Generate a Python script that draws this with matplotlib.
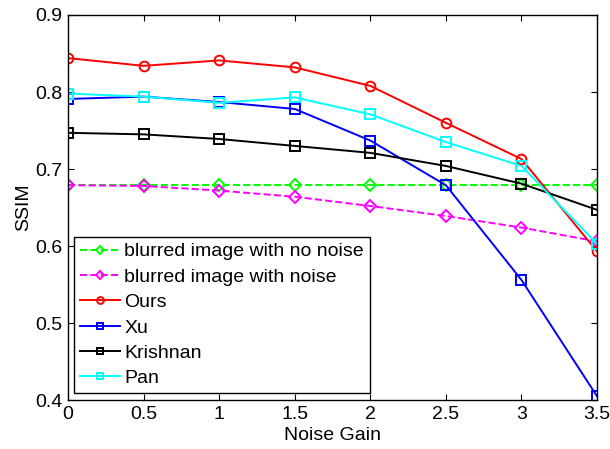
import matplotlib
matplotlib.use("Agg")
import matplotlib.pyplot as plt

noise_gain = [0, 0.5, 1, 1.5, 2, 2.5, 3, 3.5]
no_noise = [0.679, 0.679, 0.679, 0.679, 0.679, 0.679, 0.679, 0.679]
with_noise = [0.679, 0.678, 0.672, 0.664, 0.652, 0.639, 0.624, 0.606]
ours = [0.844, 0.834, 0.841, 0.832, 0.808, 0.760, 0.713, 0.593]
xu = [0.791, 0.794, 0.787, 0.778, 0.737, 0.679, 0.556, 0.405]
krishnan = [0.747, 0.745, 0.739, 0.730, 0.721, 0.704, 0.681, 0.647]
pan = [0.798, 0.794, 0.786, 0.793, 0.771, 0.735, 0.704, 0.603]

labels = ["blurred image with no noise", "blurred image with noise", "Ours", "Xu", "Krishnan", "Pan"]
xticks = [0, 0.5, 1, 1.5, 2, 2.5, 3, 3.5]
yticks = [0.4, 0.5, 0.6, 0.7, 0.8, 0.9]

plt.rcParams['font.family'] = ['Liberation Sans', 'DejaVu Sans']
fig = plt.figure(figsize=(6.1, 4.49), dpi=100)
ax = fig.add_axes([0.1115, 0.109, 0.8672, 0.8576])

lw = 1.4
ax.plot(noise_gain, no_noise, '--', color='#00ff00', marker='D', mfc='none', ms=6, mew=1.4, lw=lw, label=labels[0])
ax.plot(noise_gain, with_noise, '--', color='#ff00ff', marker='D', mfc='none', ms=6, mew=1.4, lw=lw, label=labels[1])
ax.plot(noise_gain, ours, '-', color='#ff0000', marker='o', mfc='none', ms=7, mew=1.4, lw=lw, label=labels[2])
ax.plot(noise_gain, xu, '-', color='#0000ff', marker='s', mfc='none', ms=7, mew=1.4, lw=lw, label=labels[3])
ax.plot(noise_gain, krishnan, '-', color='#000000', marker='s', mfc='none', ms=7, mew=1.4, lw=lw, label=labels[4])
ax.plot(noise_gain, pan, '-', color='#00ffff', marker='s', mfc='none', ms=7, mew=1.4, lw=lw, label=labels[5])

ax.set_xlim(0, 3.5)
ax.set_ylim(0.4, 0.9)
ax.set_xticks(xticks)
ax.set_xticklabels(['0', '0.5', '1', '1.5', '2', '2.5', '3', '3.5'])
ax.set_yticks(yticks)
ax.set_yticklabels(['0.4', '0.5', '0.6', '0.7', '0.8', '0.9'])
ax.tick_params(direction='in', top=True, right=True, labelsize=14, length=4, width=0.8, pad=4)
for s in ax.spines.values():
    s.set_linewidth(1.0)
ax.set_xlabel('Noise Gain', fontsize=14, labelpad=3)
ax.set_ylabel('SSIM', fontsize=14, labelpad=2)

leg = ax.legend(loc='lower left', bbox_to_anchor=(0.011, 0.018), borderaxespad=0,
                fontsize=14, fancybox=False, framealpha=1, edgecolor='black',
                handlelength=2.05, handletextpad=0.25, labelspacing=0.4, borderpad=0.3,
                markerscale=0.7)
leg.get_frame().set_linewidth(1.0)

fig.savefig('out.png', dpi=100)
